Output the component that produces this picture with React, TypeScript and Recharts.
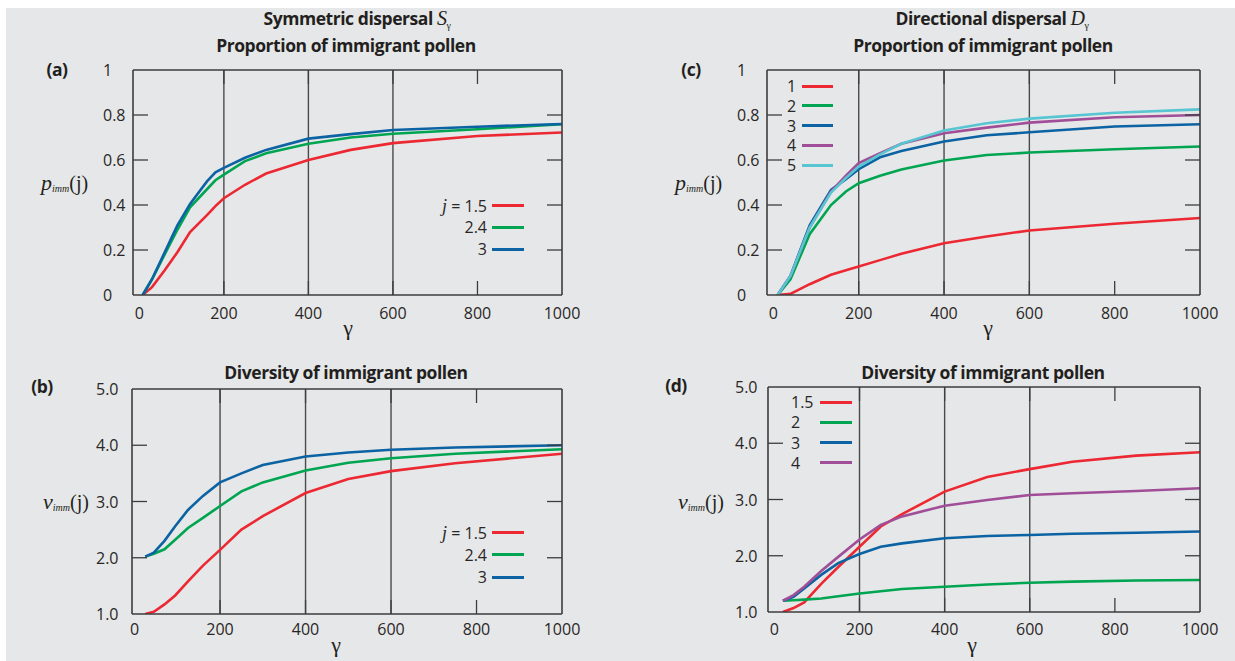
import React from 'react';
import { LineChart, Line, XAxis, YAxis, ReferenceLine } from 'recharts';

const W = 1235;
const H = 661;

const RED = '#ec2832';
const GREEN = '#00a551';
const BLUE = '#0b63a3';
const PURPLE = '#a04e98';
const CYAN = '#57c6d2';
const AXIS = '#3d3d3d';
const BG = '#e6e7e8';
const SANS = "'Open Sans', 'Noto Sans', sans-serif";
const SERIF = "'Liberation Serif', 'DejaVu Serif', serif";

// shared axes
const xTicks = [0, 200, 400, 600, 800, 1000];
const gridGammas = [200, 400, 600];
const propTicks = [0, 0.2, 0.4, 0.6, 0.8, 1];
const propTickLabels = ['0', '0.2', '0.4', '0.6', '0.8', '1'];
const divTicks = [1, 2, 3, 4, 5];
const divTickLabels = ['1.0', '2.0', '3.0', '4.0', '5.0'];

// (a) symmetric dispersal, proportion of immigrant pollen
const gammaA = [8, 30, 60, 90, 120, 160, 180, 200, 250, 300, 400, 500, 600, 800, 1000];
const propSym15 = [0, 0.035, 0.11, 0.19, 0.28, 0.355, 0.395, 0.43, 0.49, 0.54, 0.6, 0.645, 0.675, 0.707, 0.722];
const propSym24 = [0, 0.07, 0.18, 0.29, 0.39, 0.47, 0.51, 0.535, 0.595, 0.63, 0.672, 0.7, 0.717, 0.737, 0.759];
const propSym3 = [0, 0.07, 0.19, 0.31, 0.405, 0.505, 0.545, 0.565, 0.61, 0.645, 0.695, 0.715, 0.733, 0.748, 0.76];

// (b) symmetric dispersal, diversity of immigrant pollen
const gammaB = [25, 45, 70, 95, 125, 160, 200, 250, 300, 400, 500, 600, 750, 1000];
const divSym15 = [1.0, 1.04, 1.17, 1.33, 1.58, 1.86, 2.14, 2.5, 2.74, 3.15, 3.4, 3.54, 3.68, 3.85];
const divSym24 = [2.02, 2.07, 2.15, 2.32, 2.53, 2.71, 2.92, 3.18, 3.34, 3.55, 3.69, 3.77, 3.85, 3.93];
const divSym3 = [2.02, 2.09, 2.3, 2.56, 2.85, 3.1, 3.34, 3.5, 3.65, 3.8, 3.87, 3.92, 3.96, 4.0];

// (c) directional dispersal, proportion of immigrant pollen
const gammaC = [10, 40, 85, 135, 170, 200, 250, 300, 400, 500, 600, 800, 1000];
const propDir1 = [0, 0.005, 0.048, 0.09, 0.11, 0.127, 0.155, 0.183, 0.23, 0.26, 0.287, 0.317, 0.342];
const propDir2 = [0, 0.07, 0.27, 0.4, 0.46, 0.497, 0.53, 0.558, 0.598, 0.622, 0.633, 0.648, 0.66];
const propDir3 = [0, 0.085, 0.31, 0.467, 0.515, 0.559, 0.612, 0.64, 0.682, 0.71, 0.723, 0.749, 0.759];
const propDir4 = [0, 0.085, 0.3, 0.46, 0.53, 0.586, 0.63, 0.672, 0.719, 0.744, 0.766, 0.79, 0.8];
const propDir5 = [0, 0.085, 0.3, 0.455, 0.52, 0.571, 0.625, 0.672, 0.731, 0.763, 0.784, 0.81, 0.825];

// (d) directional dispersal, diversity of immigrant pollen
const gammaD = [20, 45, 70, 110, 150, 200, 250, 300, 400, 500, 600, 700, 850, 1000];
const divDir15 = [1.0, 1.07, 1.17, 1.5, 1.8, 2.16, 2.52, 2.74, 3.14, 3.4, 3.54, 3.67, 3.78, 3.84];
const divDir2 = [1.2, 1.21, 1.22, 1.24, 1.28, 1.33, 1.37, 1.41, 1.45, 1.49, 1.52, 1.54, 1.56, 1.57];
const divDir3 = [1.2, 1.27, 1.42, 1.66, 1.87, 2.03, 2.16, 2.22, 2.31, 2.35, 2.37, 2.39, 2.41, 2.43];
const divDir4 = [1.2, 1.3, 1.45, 1.73, 1.98, 2.29, 2.55, 2.7, 2.89, 2.99, 3.08, 3.11, 3.15, 3.2];

type Series = { name: string; color: string; values: number[] };
type Box = { left: number; top: number; right: number; bottom: number };

const TICK = 14;
// room reserved for each axis inside the chart margins
const XAX_H = 20;
const YAX_W = 20;

function Panel(props: {
  plot: Box;
  xMin: number;
  gamma: number[];
  series: Series[];
  yDomain: [number, number];
  yTicks: number[];
  yTickLabels: string[];
  yLabelX: number;
  xBaseline: number;
}) {
  const { plot, xMin, gamma, series, yDomain, yTicks, yTickLabels, yLabelX, xBaseline } = props;
  const rows = gamma.map((g, i) => {
    const r: Record<string, number> = { g };
    series.forEach((s, k) => (r['s' + k] = s.values[i]));
    return r;
  });
  const inX = (v: number) => v > 0 && v < 1000;
  const inY = (v: number) => v > yDomain[0] && v < yDomain[1];

  const bottomTick = (p: any) => (
    <g>
      {inX(p.payload.value) && (
        <line x1={p.x} x2={p.x} y1={plot.bottom} y2={plot.bottom - TICK} stroke={AXIS} strokeWidth={1.3} />
      )}
      <text x={p.x} y={xBaseline} textAnchor="middle" fontFamily={SANS} fontSize={16} fill="#2a2627">
        {p.payload.value}
      </text>
    </g>
  );
  const topTick = (p: any) =>
    inX(p.payload.value) ? (
      <line x1={p.x} x2={p.x} y1={plot.top} y2={plot.top + TICK} stroke={AXIS} strokeWidth={1.3} />
    ) : (
      <g />
    );
  const leftTick = (p: any) => (
    <g>
      {inY(p.payload.value) && (
        <line x1={plot.left} x2={plot.left + 15} y1={p.y} y2={p.y} stroke={AXIS} strokeWidth={1.3} />
      )}
      <text x={yLabelX} y={p.y} dy={6} textAnchor="start" fontFamily={SANS} fontSize={16} fill="#2a2627">
        {yTickLabels[yTicks.indexOf(p.payload.value)]}
      </text>
    </g>
  );
  const rightTick = (p: any) =>
    inY(p.payload.value) ? (
      <line x1={plot.right} x2={plot.right - 15} y1={p.y} y2={p.y} stroke={AXIS} strokeWidth={1.3} />
    ) : (
      <g />
    );

  return (
    <div style={{ position: 'absolute', left: 0, top: 0 }}>
      <LineChart
        width={W}
        height={H}
        data={rows}
        margin={{
          top: plot.top - XAX_H,
          left: plot.left - YAX_W,
          right: W - plot.right - YAX_W,
          bottom: H - plot.bottom - XAX_H,
        }}
      >
        {gridGammas.map((g) => (
          <ReferenceLine key={g} x={g} stroke="#4a4a4a" strokeWidth={1.4} />
        ))}
        <XAxis
          dataKey="g"
          type="number"
          domain={[xMin, 1000]}
          allowDataOverflow
          ticks={xTicks}
          height={XAX_H}
          tickLine={false}
          axisLine={{ stroke: AXIS, strokeWidth: 1.6 }}
          tick={bottomTick}
          interval={0}
        />
        <XAxis
          xAxisId="top"
          orientation="top"
          dataKey="g"
          type="number"
          domain={[xMin, 1000]}
          allowDataOverflow
          ticks={xTicks}
          height={XAX_H}
          tickLine={false}
          axisLine={{ stroke: AXIS, strokeWidth: 1.6 }}
          tick={topTick}
          interval={0}
        />
        <YAxis
          type="number"
          domain={yDomain}
          allowDataOverflow
          ticks={yTicks}
          width={YAX_W}
          tickLine={false}
          axisLine={{ stroke: AXIS, strokeWidth: 1.6 }}
          tick={leftTick}
          interval={0}
        />
        <YAxis
          yAxisId="r"
          orientation="right"
          type="number"
          domain={yDomain}
          allowDataOverflow
          ticks={yTicks}
          width={YAX_W}
          tickLine={false}
          axisLine={{ stroke: AXIS, strokeWidth: 1.6 }}
          tick={rightTick}
          interval={0}
        />
        {series.map((s, k) => (
          <Line
            key={s.name}
            dataKey={'s' + k}
            name={s.name}
            type="linear"
            stroke={s.color}
            strokeWidth={2.6}
            dot={false}
            isAnimationActive={false}
          />
        ))}
      </LineChart>
    </div>
  );
}

const abs = (left: number, top: number, extra: React.CSSProperties = {}): React.CSSProperties => ({
  position: 'absolute',
  left,
  top,
  whiteSpace: 'nowrap',
  lineHeight: 1,
  ...extra,
});

function Centered({ x, y, children, style }: { x: number; y: number; children: React.ReactNode; style?: React.CSSProperties }) {
  return <div style={abs(x, y, { transform: 'translate(-50%, -50%)', ...style })}>{children}</div>;
}

const boldTitle: React.CSSProperties = { fontFamily: SANS, fontWeight: 700, fontSize: 17.5, color: '#231f20', letterSpacing: -0.45 };

function YLabel({ x, y, letter }: { x: number; y: number; letter: string }) {
  return (
    <div style={abs(x, y - 11, { fontFamily: SERIF, color: '#231f20' })}>
      <span style={{ fontStyle: 'italic', fontSize: 22 }}>{letter}</span>
      <span style={{ fontStyle: 'italic', fontSize: 10, position: 'relative', top: 2 }}>imm</span>
      <span style={{ fontSize: 20 }}>(j)</span>
    </div>
  );
}

function LegendBox(props: {
  items: Series[];
  y0: number;
  gap: number;
  textX: number;
  alignRight: boolean;
  lineX: number;
  lineW: number;
  prefix?: boolean;
}) {
  const { items, y0, gap, textX, alignRight, lineX, lineW, prefix } = props;
  return (
    <>
      {items.map((s, i) => {
        const y = y0 + i * gap;
        return (
          <React.Fragment key={s.name}>
            <div
              style={abs(alignRight ? textX - 120 : textX, y - 8, {
                width: alignRight ? 120 : undefined,
                textAlign: alignRight ? 'right' : 'left',
                fontFamily: SANS,
                fontSize: 16,
                height: 16,
                color: '#2a2627',
              })}
            >
              {prefix && i === 0 && (
                <span>
                  <span style={{ fontFamily: SERIF, fontStyle: 'italic', fontSize: 18 }}>j</span> ={' '}
                </span>
              )}
              {s.name}
            </div>
            <div style={abs(lineX, y - 1.5, { width: lineW, height: 3, background: s.color })} />
          </React.Fragment>
        );
      })}
    </>
  );
}

const symProp: Series[] = [
  { name: '1.5', color: RED, values: propSym15 },
  { name: '2.4', color: GREEN, values: propSym24 },
  { name: '3', color: BLUE, values: propSym3 },
];
const symDiv: Series[] = [
  { name: '1.5', color: RED, values: divSym15 },
  { name: '2.4', color: GREEN, values: divSym24 },
  { name: '3', color: BLUE, values: divSym3 },
];
const dirProp: Series[] = [
  { name: '1', color: RED, values: propDir1 },
  { name: '2', color: GREEN, values: propDir2 },
  { name: '3', color: BLUE, values: propDir3 },
  { name: '4', color: PURPLE, values: propDir4 },
  { name: '5', color: CYAN, values: propDir5 },
];
const dirDiv: Series[] = [
  { name: '1.5', color: RED, values: divDir15 },
  { name: '2', color: GREEN, values: divDir2 },
  { name: '3', color: BLUE, values: divDir3 },
  { name: '4', color: PURPLE, values: divDir4 },
];

export default function App() {
  return (
    <div style={{ position: 'absolute', left: 0, top: 0, width: W, height: H, background: '#fff', overflow: 'hidden' }}>
      <div style={{ position: 'absolute', left: 6, top: 8, width: W - 6, height: H - 8, background: BG }} />

      <Panel plot={{ left: 133, top: 70, right: 562, bottom: 295 }} xMin={-15} gamma={gammaA} series={symProp}
        yDomain={[0, 1]} yTicks={propTicks} yTickLabels={propTickLabels} yLabelX={103} xBaseline={319} />
      <Panel plot={{ left: 132, top: 389, right: 562, bottom: 614 }} xMin={-6} gamma={gammaB} series={symDiv}
        yDomain={[1, 5]} yTicks={divTicks} yTickLabels={divTickLabels} yLabelX={96} xBaseline={635} />
      <Panel plot={{ left: 767, top: 70, right: 1200, bottom: 295 }} xMin={-15} gamma={gammaC} series={dirProp}
        yDomain={[0, 1]} yTicks={propTicks} yTickLabels={propTickLabels} yLabelX={737} xBaseline={319} />
      <Panel plot={{ left: 768, top: 387, right: 1200, bottom: 612 }} xMin={-15} gamma={gammaD} series={dirDiv}
        yDomain={[1, 5]} yTicks={divTicks} yTickLabels={divTickLabels} yLabelX={735} xBaseline={635} />

      {/* titles */}
      <Centered x={357} y={18} style={boldTitle}>
        Symmetric dispersal{' '}
        <span style={{ fontFamily: SERIF, fontStyle: 'italic', fontWeight: 400, fontSize: 20 }}>S</span>
        <span style={{ fontFamily: SERIF, fontWeight: 400, fontSize: 10, position: 'relative', top: 4 }}>γ</span>
      </Centered>
      <Centered x={346} y={46} style={boldTitle}>Proportion of immigrant pollen</Centered>
      <Centered x={346} y={373} style={boldTitle}>Diversity of immigrant pollen</Centered>
      <Centered x={992} y={18} style={boldTitle}>
        Directional dispersal{' '}
        <span style={{ fontFamily: SERIF, fontStyle: 'italic', fontWeight: 400, fontSize: 20 }}>D</span>
        <span style={{ fontFamily: SERIF, fontWeight: 400, fontSize: 10, position: 'relative', top: 4 }}>γ</span>
      </Centered>
      <Centered x={983} y={46} style={boldTitle}>Proportion of immigrant pollen</Centered>
      <Centered x={983} y={373} style={boldTitle}>Diversity of immigrant pollen</Centered>

      {/* panel letters */}
      <Centered x={57} y={70} style={boldTitle}>(a)</Centered>
      <Centered x={42} y={387} style={boldTitle}>(b)</Centered>
      <Centered x={691} y={70} style={boldTitle}>(c)</Centered>
      <Centered x={676} y={386} style={boldTitle}>(d)</Centered>

      {/* y labels */}
      <YLabel x={41} y={183} letter="p" />
      <YLabel x={43} y={502} letter="v" />
      <YLabel x={675} y={183} letter="p" />
      <YLabel x={678} y={502} letter="v" />

      {/* x labels */}
      <Centered x={348} y={328} style={{ fontFamily: SERIF, fontSize: 22, color: '#231f20' }}>γ</Centered>
      <Centered x={336} y={645} style={{ fontFamily: SERIF, fontSize: 22, color: '#231f20' }}>γ</Centered>
      <Centered x={988} y={328} style={{ fontFamily: SERIF, fontSize: 22, color: '#231f20' }}>γ</Centered>
      <Centered x={972} y={645} style={{ fontFamily: SERIF, fontSize: 22, color: '#231f20' }}>γ</Centered>

      {/* legends */}
      <LegendBox items={symProp} y0={205} gap={22} textX={487} alignRight lineX={492} lineW={32} prefix />
      <LegendBox items={symDiv} y0={532} gap={22.5} textX={487} alignRight lineX={492} lineW={32} prefix />
      <LegendBox items={dirProp} y0={86} gap={19.8} textX={787} alignRight={false} lineX={802} lineW={31} />
      <LegendBox items={dirDiv} y0={402} gap={20.3} textX={791} alignRight={false} lineX={820} lineW={32} />
    </div>
  );
}
